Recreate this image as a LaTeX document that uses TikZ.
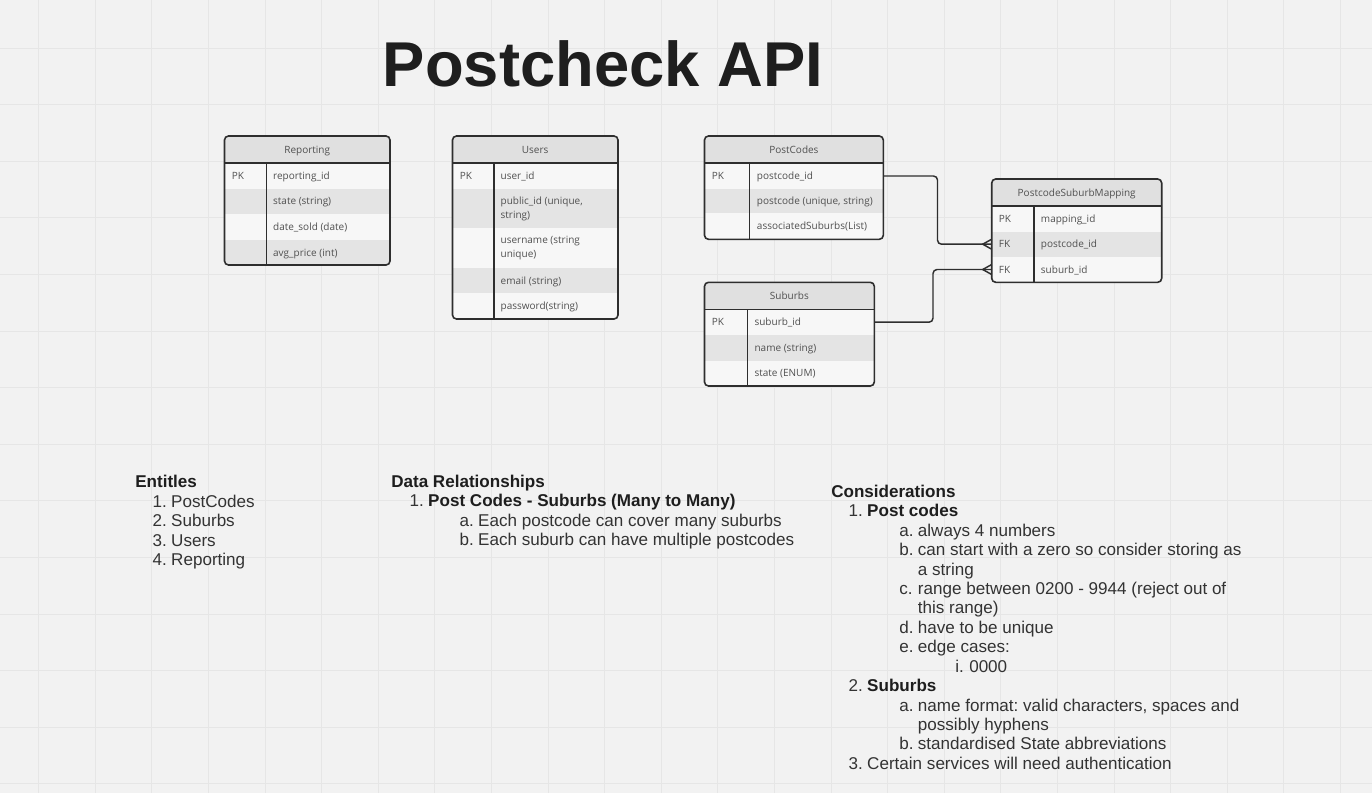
\documentclass[tikz,border=0pt]{standalone}
\usepackage{fontspec}
\setmainfont{Liberation Sans}
\newfontfamily\tblfont{Open Sans}
\usetikzlibrary{calc,fit}
\frenchspacing

\definecolor{canvas}{HTML}{F2F2F2}
\definecolor{gridc}{HTML}{E6E6E6}
\definecolor{hdrgray}{HTML}{E0E0E0}
\definecolor{rowgray}{HTML}{E4E4E4}
\definecolor{rowwhite}{HTML}{F7F7F7}
\definecolor{tblborder}{HTML}{2E2E2E}
\definecolor{tbltext}{HTML}{505050}
\definecolor{bodytext}{HTML}{333333}
\definecolor{headtext}{HTML}{1E1E1E}

\newcommand{\itm}[3][14pt]{\makebox[#1][l]{#2}#3}

\tikzset{
  gridline/.style={gridc, line width=0.8pt},
  tbl/.style={draw=tblborder, line width=1.2pt, rounded corners=3pt, inner sep=0pt, outer sep=0pt},
  tblline/.style={tblborder, line width=1.2pt},
  hdr/.style={anchor=mid, font=\tblfont\fontsize{7.5}{10.5}\selectfont, text=tbltext, inner sep=0pt},
  fld/.style={anchor=mid west, font=\tblfont\fontsize{7.5}{10.5}\selectfont, text=tbltext, inner sep=0pt},
  rel/.style={tblborder, line width=1.1pt, rounded corners=3pt},
  title/.style={anchor=base west, font=\fontsize{47.5}{57}\selectfont\bfseries, text=headtext, inner sep=0pt},
  txt/.style={anchor=base west, font=\fontsize{12.8}{15.4}\selectfont, text=bodytext, inner sep=0pt},
  head/.style={txt, font=\fontsize{12.8}{15.4}\selectfont\bfseries, text=headtext}
}

\begin{document}
\begin{tikzpicture}[x=0.75pt,y=-0.75pt]
  % canvas and grid
  \fill[canvas] (0,0) rectangle (1372,793);
  \useasboundingbox (0,0) rectangle (1372,793);
  \foreach \i in {0,...,23} \draw[gridline] ({38.7+56.6*\i},0) -- ({38.7+56.6*\i},793);
  \foreach \i in {0,...,13} \draw[gridline] (0,{48.1+56.6*\i}) -- (1372,{48.1+56.6*\i});

  \node[title] (title) at (382.7,86.7) {Postcheck API};

  % Reporting
  \begin{scope}
    \clip[rounded corners=3pt] (224.5,136) rectangle (390,265);
    \fill[rowwhite] (224.5,136) rectangle (390,265);
    \fill[hdrgray] (224.5,136) rectangle (390,163);
    \foreach \a/\b in {189/213.5,240/265} \fill[rowgray] (224.5,\a) rectangle (390,\b);
  \end{scope}
  \node[tbl, fit={(224.5,136) (390,265)}] (reporting) {};
  \draw[tblline] (224.5,163) -- (390,163) (266.5,163) -- (266.5,265);
  \node[hdr] (reporting-hdr) at (307.2,149.5) {Reporting};
  \node[fld] (reporting-pk) at (231.7,176) {PK};
  \foreach \n/\y/\t in {1/176/reporting\_id, 2/201.2/state (string), 3/226.8/date\_sold (date), 4/252.5/avg\_price (int)}
    \node[fld] (reporting-\n) at (272.9,\y) {\t};

  % Users
  \begin{scope}
    \clip[rounded corners=3pt] (452.5,136) rectangle (618,319);
    \fill[rowwhite] (452.5,136) rectangle (618,319);
    \fill[hdrgray] (452.5,136) rectangle (618,163);
    \foreach \a/\b in {189.3/227.7,267.7/293.3} \fill[rowgray] (452.5,\a) rectangle (618,\b);
  \end{scope}
  \node[tbl, fit={(452.5,136) (618,319)}] (users) {};
  \draw[tblline] (452.5,163) -- (618,163) (494,163) -- (494,319);
  \node[hdr] (users-hdr) at (535.2,149.5) {Users};
  \node[fld] (users-pk) at (459.5,176) {PK};
  \node[fld] (users-1) at (500.4,176) {user\_id};
  \node[fld, anchor=west, align=left] (users-2) at (500.4,208.5) {public\_id (unique,\\string)};
  \node[fld, anchor=west, align=left] (users-3) at (500.4,247.7) {username (string\\unique)};
  \node[fld] (users-4) at (500.4,280.5) {email (string)};
  \node[fld] (users-5) at (500.4,306.2) {password(string)};

  % PostCodes
  \begin{scope}
    \clip[rounded corners=3pt] (704.5,136) rectangle (883.3,239.3);
    \fill[rowwhite] (704.5,136) rectangle (883.3,239.3);
    \fill[hdrgray] (704.5,136) rectangle (883.3,162.7);
    \fill[rowgray] (704.5,189.3) rectangle (883.3,213.3);
  \end{scope}
  \node[tbl, fit={(704.5,136) (883.3,239.3)}] (postcodes) {};
  \draw[tblline] (704.5,162.7) -- (883.3,162.7) (749.3,162.7) -- (749.3,239.3);
  \node[hdr] (postcodes-hdr) at (793.9,149.5) {PostCodes};
  \node[fld] (postcodes-pk) at (711.7,176) {PK};
  \foreach \n/\y/\t in {1/176/postcode\_id, 2/201.3/{postcode (unique, string)}, 3/226.3/associatedSuburbs(List)}
    \node[fld] (postcodes-\n) at (756.7,\y) {\t};

  % PostcodeSuburbMapping
  \begin{scope}
    \clip[rounded corners=3pt] (991.7,179) rectangle (1161.7,282.3);
    \fill[rowwhite] (991.7,179) rectangle (1161.7,282.3);
    \fill[hdrgray] (991.7,179) rectangle (1161.7,206);
    \fill[rowgray] (991.7,231.7) rectangle (1161.7,256.7);
  \end{scope}
  \node[tbl, fit={(991.7,179) (1161.7,282.3)}] (mapping) {};
  \draw[tblline] (991.7,206) -- (1161.7,206) (1033.7,206) -- (1033.7,282.3);
  \node[hdr] (mapping-hdr) at (1076.7,192.5) {PostcodeSuburbMapping};
  \foreach \n/\y/\k/\t in {1/218.8/PK/mapping\_id, 2/244.2/FK/postcode\_id, 3/269.5/FK/suburb\_id} {
    \node[fld] (mapping-k\n) at (998.7,\y) {\k};
    \node[fld] (mapping-\n) at (1040.7,\y) {\t};
  }

  % Suburbs
  \begin{scope}
    \clip[rounded corners=3pt] (704.5,282.3) rectangle (874.3,386);
    \fill[rowwhite] (704.5,282.3) rectangle (874.3,386);
    \fill[hdrgray] (704.5,282.3) rectangle (874.3,309.3);
    \fill[rowgray] (704.5,335) rectangle (874.3,360.7);
  \end{scope}
  \node[tbl, fit={(704.5,282.3) (874.3,386)}] (suburbs) {};
  \draw[tblline] (704.5,309.3) -- (874.3,309.3) (747.3,309.3) -- (747.3,386);
  \node[hdr] (suburbs-hdr) at (789.4,295.8) {Suburbs};
  \node[fld] (suburbs-pk) at (711.7,322.2) {PK};
  \foreach \n/\y/\t in {1/322.2/suburb\_id, 2/347.8/name (string), 3/373.3/state (ENUM)}
    \node[fld] (suburbs-\n) at (754.3,\y) {\t};

  % relations
  \coordinate (pc-out) at (postcodes-1.mid -| postcodes.east);
  \coordinate (pc-in) at (mapping-2.mid -| mapping.west);
  \coordinate (sb-out) at (suburbs-1.mid -| suburbs.east);
  \coordinate (sb-in) at (mapping-3.mid -| mapping.west);
  \draw[rel] (pc-out) -| ($(pc-out)!.5!(pc-in)$) |- (pc-in);
  \draw[rel] (sb-out) -| ($(sb-out)!.5!(sb-in)$) |- (sb-in);
  \foreach \c in {pc-in,sb-in}
    \draw[tblline, line width=1.1pt] ($(\c)+(0,-5)$) -- ($(\c)+(-9,0)$) -- ($(\c)+(0,5)$);

  % Entitles
  \node[head] (ent) at (135,487.7) {Entitles};
  \foreach \t [count=\k] in {PostCodes,Suburbs,Users,Reporting}
    \node[txt] (ent-\k) at (152.3,{487.7+19.5*\k}) {\itm{\k.}{\t}};

  % Data Relationships
  \node[head] (rel) at (391,487) {Data Relationships};
  \node[txt] (rel-1) at (409.3,506.7) {\itm{1.}{\textbf{\color{headtext}Post Codes - Suburbs (Many to Many)}}};
  \node[txt] (rel-1a) at (459.3,526.3) {\itm{a.}{Each postcode can cover many suburbs}};
  \node[txt] (rel-1b) at (459.3,545.8) {\itm{b.}{Each suburb can have multiple postcodes}};

  % Considerations
  \node[head] (con) at (831,497.3) {Considerations};
  \foreach \x/\w/\lbl/\t [count=\k] in {
      848.3/14pt/1./\textbf{\color{headtext}Post codes},
      899/14pt/a./always 4 numbers,
      899/14pt/b./can start with a zero so consider storing as,
      899/14pt//a string,
      899/14pt/c./range between 0200 - 9944 (reject out of,
      899/14pt//this range),
      899/14pt/d./have to be unique,
      899/14pt/e./edge cases:,
      955/10.5pt/i./0000,
      848.3/14pt/2./\textbf{\color{headtext}Suburbs},
      899/14pt/a./{name format: valid characters, spaces and},
      899/14pt//possibly hyphens,
      899/14pt/b./standardised State abbreviations,
      848.3/14pt/3./Certain services will need authentication}
    \node[txt] (con-\k) at (\x,{497.3+19.43*\k}) {\itm[\w]{\lbl}{\t}};
\end{tikzpicture}
\end{document}
